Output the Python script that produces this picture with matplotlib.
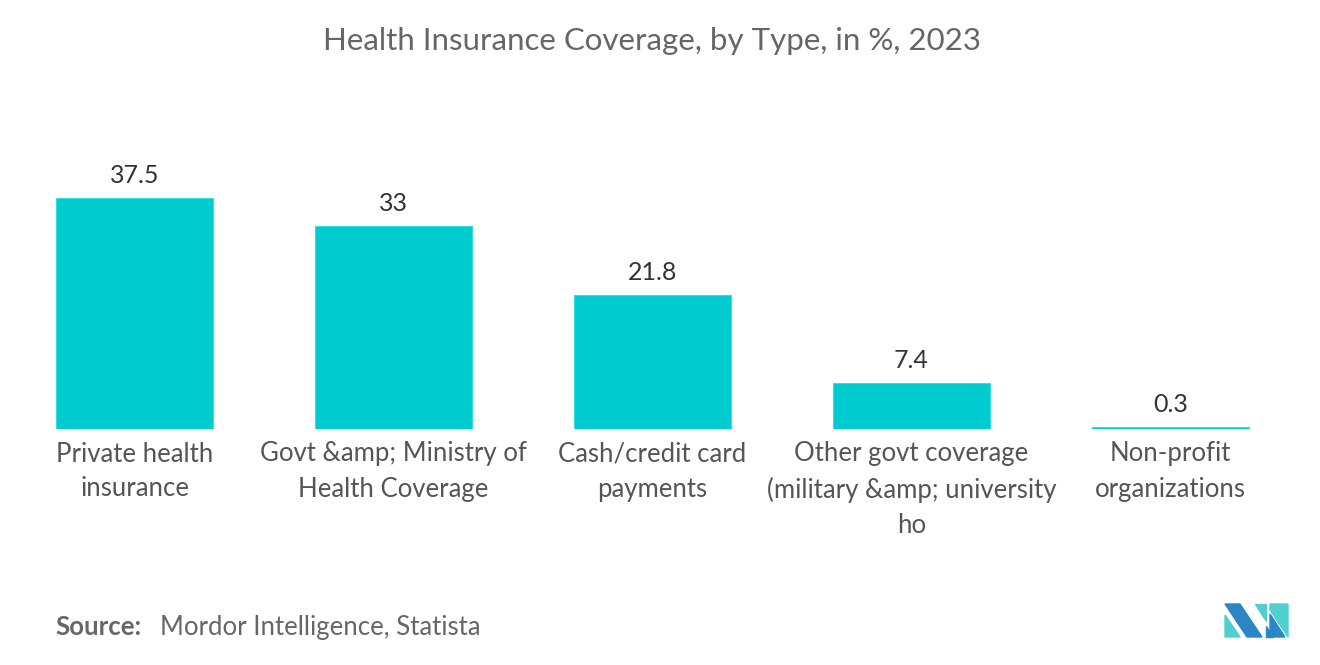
import matplotlib
matplotlib.use("Agg")
import matplotlib.pyplot as plt
from matplotlib.patches import Polygon

categories = ["Private health\ninsurance", "Govt &amp; Ministry of\nHealth Coverage",
              "Cash/credit card\npayments", "Other govt coverage\n(military &amp; university\nho",
              "Non-profit\norganizations"]
values = [37.5, 33, 21.8, 7.4, 0.3]
value_labels = ["37.5", "33", "21.8", "7.4", "0.3"]

plt.rcParams['font.family'] = ['Lato', 'DejaVu Sans']

W, H = 1320, 665
fig = plt.figure(figsize=(W/100, H/100), dpi=100)
ax = fig.add_axes([5/W, (H-429)/H, 1295/W, 246.4/H])
x = range(len(values))
ax.bar(x, values, width=0.606, color="#00CCCF", edgecolor="#33DDE0", linewidth=0.8)
ax.set_xlim(-0.5, 4.5)
ax.set_ylim(0, 40)
ax.axis("off")
for xi, v, lab in zip(x, values, value_labels):
    ax.annotate(lab, (xi, v), xytext=(0, 8), textcoords="offset points",
                ha="center", va="bottom", fontsize=18, color="#333333")
for xi, c in zip(x, categories):
    ax.annotate(c, (xi, 0), xytext=(0, -9), textcoords="offset points",
                ha="center", va="top", fontsize=18.5, color="#555555", linespacing=1.5)

fig.text(652/W, 1-41/H, "Health Insurance Coverage, by Type, in %, 2023", ha="center", va="center",
         fontsize=22.5, color="#666666")
fig.text(55/W, 1-627/H, "Source:", ha="left", va="center", fontsize=18.5, color="#666666", fontweight="bold")
fig.text(160/W, 1-627/H, "Mordor Intelligence, Statista", ha="left", va="center", fontsize=18.5, color="#666666")

# logo
def px(pts):
    return [(a/W, 1-b/H) for a, b in pts]
dark = "#2B86C5"
light = "#4FCFCF"
fig.patches.append(Polygon(px([(1225, 604), (1240, 604), (1262, 637), (1247, 637)]), closed=True,
                           transform=fig.transFigure, color=dark))
fig.patches.append(Polygon(px([(1225, 615), (1240, 637), (1225, 637)]), closed=True,
                           transform=fig.transFigure, color=light))
fig.patches.append(Polygon(px([(1255, 604), (1266, 604), (1266, 621)]), closed=True,
                           transform=fig.transFigure, color=light))
fig.patches.append(Polygon(px([(1270, 604), (1288, 604), (1288, 637), (1270, 610)]), closed=True,
                           transform=fig.transFigure, color=light))
fig.patches.append(Polygon(px([(1266, 626), (1266, 637), (1273, 637)]), closed=True,
                           transform=fig.transFigure, color=dark))
fig.patches.append(Polygon(px([(1270, 614), (1285, 637), (1270, 637)]), closed=True,
                           transform=fig.transFigure, color=dark))

fig.savefig("out.png", dpi=100)
